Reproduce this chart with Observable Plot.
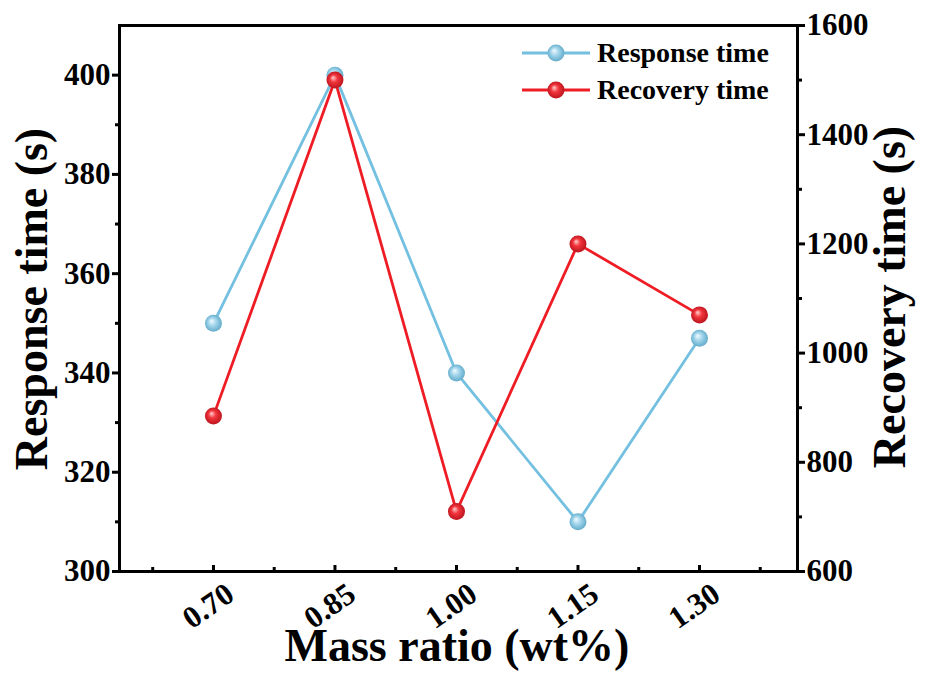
<!DOCTYPE html>
<html><head><meta charset="utf-8">
<script src="https://cdn.jsdelivr.net/npm/d3@7"></script>
<script src="https://cdn.jsdelivr.net/npm/@observablehq/plot@0.6"></script>
<style>
body{margin:0;background:#fff;}
#chart{width:927px;height:677px;}
#chart svg text{font-family:'Liberation Serif','Times New Roman',serif !important;font-weight:bold;}
</style></head>
<body><div id="chart"></div>
<script>
// ---- data ----
const massRatio = [0.70, 0.85, 1.00, 1.15, 1.30];
const responseTime = [350, 400, 340, 310, 347];
const recoveryTime = [885, 1500, 710, 1200, 1070];
const seriesNames = ["Response time", "Recovery time"];
const leftTicks = [300, 320, 340, 360, 380, 400];
const leftMinor = [310, 330, 350, 370, 390];
const rightTicks = [600, 800, 1000, 1200, 1400, 1600];
const rightMinor = [700, 900, 1100, 1300, 1500];
const xMinor = [0.625, 0.775, 0.925, 1.075, 1.225, 1.375];
const xLabels = ["0.70", "0.85", "1.00", "1.15", "1.30"];

const leftDomain = [300, 410];
const rightDomain = [600, 1600];
const toLeft = v => leftDomain[0] + (v - rightDomain[0]) * (leftDomain[1] - leftDomain[0]) / (rightDomain[1] - rightDomain[0]);
const fromLeft = v => rightDomain[0] + (v - leftDomain[0]) * (rightDomain[1] - rightDomain[0]) / (leftDomain[1] - leftDomain[0]);

const rows = massRatio.map((m, i) => ({m, resp: responseTime[i], rec: recoveryTime[i], recL: toLeft(recoveryTime[i])}));

const blue = "#74c0e0";
const red = "#ee1d25";
const font = "Liberation Serif";

const chart = Plot.plot({
  width: 927, height: 677,
  marginLeft: 119, marginRight: 130, marginTop: 25, marginBottom: 106,
  style: {fontFamily: font, fontWeight: "bold", fontSize: "30px", color: "#000", background: "#fff", overflow: "visible"},
  x: {domain: [0.584, 1.421]},
  y: {domain: leftDomain},
  marks: [
    Plot.line(rows, {x: "m", y: "resp", stroke: blue, strokeWidth: 2.8}),
    Plot.line(rows, {x: "m", y: "recL", stroke: red, strokeWidth: 2.8}),
    Plot.dot(rows, {x: "m", y: "resp", r: 8.5, fill: "url(#gBlue)", stroke: "none"}),
    Plot.dot(rows, {x: "m", y: "recL", r: 8.5, fill: "url(#gRed)", stroke: "none"}),
    Plot.frame({stroke: "#000", strokeWidth: 3}),
    // left axis
    Plot.axisY({anchor: "left", ticks: leftTicks, tickSize: 7, tickPadding: 2, strokeWidth: 3, label: null, fontSize: 31, tickFormat: d => String(d)}),
    Plot.axisY({anchor: "left", ticks: leftMinor, tickSize: 4, strokeWidth: 3, fill: "none", label: null}),
    // right axis
    Plot.axisY({anchor: "right", ticks: rightTicks.map(toLeft), tickSize: 7, tickPadding: 2, strokeWidth: 3, label: null, fontSize: 31, tickFormat: d => String(Math.round(fromLeft(d)))}),
    Plot.axisY({anchor: "right", ticks: rightMinor.map(toLeft), tickSize: 4, strokeWidth: 3, fill: "none", label: null}),
    // x axis
    Plot.axisX({anchor: "bottom", ticks: massRatio, tickSize: -6, strokeWidth: 3, fill: "none", label: null}),
    Plot.axisX({anchor: "bottom", ticks: xMinor, tickSize: -4, strokeWidth: 3, fill: "none", label: null}),
    Plot.axisX({anchor: "bottom", ticks: massRatio, tickSize: 0, tickPadding: 19, tickRotate: -35, dx: 17, label: null, fontSize: 31,
      tickFormat: d => xLabels[massRatio.findIndex(v => Math.abs(v - d) < 1e-9)]})
  ]
});

document.getElementById("chart").appendChild(chart);

const svg = d3.select(chart);
const defs = svg.insert("defs", ":first-child");
function grad(id, stops) {
  const g = defs.append("radialGradient").attr("id", id).attr("cx", "50%").attr("cy", "50%").attr("r", "55%").attr("fx", "38%").attr("fy", "35%");
  stops.forEach(([o, c]) => g.append("stop").attr("offset", o).attr("stop-color", c));
}
grad("gBlue", [["0%", "#f2fbff"], ["45%", "#9fd3ea"], ["100%", "#5aa6c6"]]);
grad("gRed", [["0%", "#ffd0d0"], ["40%", "#f2353c"], ["100%", "#b5101a"]]);

// axis titles
const tStyle = s => s.attr("font-family", font).attr("font-weight", "bold").attr("font-size", 46).attr("fill", "#000").attr("text-anchor", "middle");
tStyle(svg.append("text")).attr("transform", "translate(47,299) rotate(-90)").text("Response time (s)");
tStyle(svg.append("text")).attr("transform", "translate(905,297) rotate(-90)").text("Recovery time (s)");
tStyle(svg.append("text")).attr("x", 457).attr("y", 661).text("Mass ratio (wt%)");

// legend
const leg = svg.append("g");
[[blue, "url(#gBlue)", 53], [red, "url(#gRed)", 90]].forEach(([c, f, y], i) => {
  leg.append("line").attr("x1", 522).attr("x2", 590).attr("y1", y).attr("y2", y).attr("stroke", c).attr("stroke-width", 2.8);
  leg.append("circle").attr("cx", 556).attr("cy", y).attr("r", 8.5).attr("fill", f);
  leg.append("text").attr("x", 597).attr("y", y + 9).attr("text-anchor", "start").attr("font-family", font).attr("font-weight", "bold").attr("font-size", 28).attr("fill", "#000").text(seriesNames[i]);
});
</script>
</body></html>
